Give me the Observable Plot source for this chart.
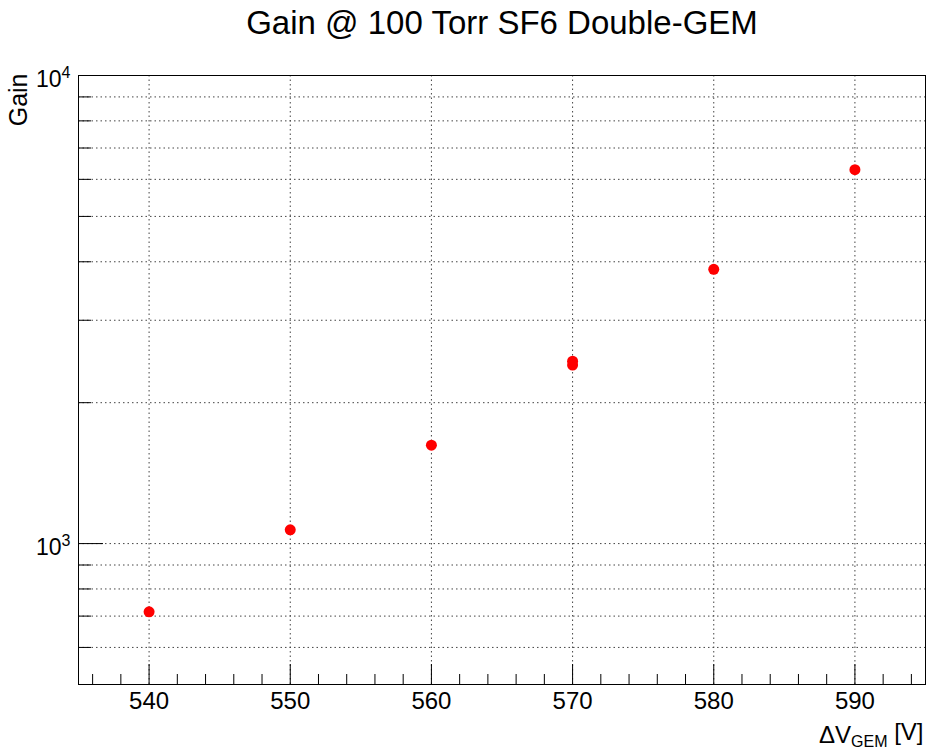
<!DOCTYPE html>
<html><head><meta charset="utf-8">
<script src="https://cdn.jsdelivr.net/npm/d3@7"></script>
<script src="https://cdn.jsdelivr.net/npm/@observablehq/plot@0.6"></script>
<style>
body{margin:0;background:#fff}
svg{font-family:"Liberation Sans",Arial,Helvetica,sans-serif}
</style>
</head><body><div id="chart"></div>
<script>
// Data
const voltage = [540, 550, 560, 570, 570, 580, 590];
const gain = [715, 1070, 1623, 2453, 2406, 3855, 6293];

// Ticks
const xMajorTicks = [540, 550, 560, 570, 580, 590];
const xMinorTicks = [536, 538, 542, 544, 546, 548, 552, 554, 556, 558, 562, 564, 566, 568, 572, 574, 576, 578, 582, 584, 586, 588, 592, 594];
const yMajorTicks = [1000, 10000];
const yMajorLabels = ["10^3", "10^4"];
const yMinorTicks = [600, 700, 800, 900, 2000, 3000, 4000, 5000, 6000, 7000, 8000, 9000];

const titleText = "Gain @ 100 Torr SF6 Double-GEM";
const xLabel = "ΔV_GEM [V]";
const yLabel = "Gain";

const points = voltage.map((v, i) => ({v, g: gain[i]}));

const W = 930, H = 753, mL = 78, mR = 5, mT = 75, mB = 69;
const plotW = W - mL - mR, plotH = H - mT - mB;
const gridStyle = {stroke: "#444", strokeOpacity: 1, strokeWidth: 1, strokeDasharray: "1.5,3"};

const plot = Plot.plot({
  width: W, height: H,
  marginLeft: mL, marginRight: mR, marginTop: mT, marginBottom: mB,
  style: {background: "white", color: "black", fontFamily: "Liberation Sans, Arial, sans-serif"},
  x: {domain: [535, 595]},
  y: {type: "log", domain: [500, 10000]},
  marks: [
    Plot.gridX(xMajorTicks, gridStyle),
    Plot.gridY([...yMinorTicks, 1000], gridStyle),
    Plot.tickX(xMajorTicks, {x: d => d, insetTop: plotH - 20, stroke: "black", strokeWidth: 1}),
    Plot.tickX(xMinorTicks, {x: d => d, insetTop: plotH - 10, stroke: "black", strokeWidth: 1}),
    Plot.tickY(yMajorTicks, {y: d => d, insetRight: plotW - 25, stroke: "black", strokeWidth: 1}),
    Plot.tickY(yMinorTicks, {y: d => d, insetRight: plotW - 13, stroke: "black", strokeWidth: 1}),
    Plot.axisX(xMajorTicks, {tickSize: 0, tickPadding: 7, fontSize: 24, label: null}),
    Plot.axisY(yMajorTicks, {tickSize: 0, tickPadding: 8, fontSize: 23, dy: 4, label: null,
      tickFormat: d => yMajorLabels[yMajorTicks.indexOf(d)]}),
    Plot.frame({stroke: "black", strokeWidth: 1}),
    Plot.dot(points, {x: "v", y: "g", r: 5.5, fill: "#ff0000", stroke: "none"}),
    Plot.text([titleText], {frameAnchor: "top", dy: -65, fontSize: 33, text: d => d}),
    Plot.text([yLabel], {frameAnchor: "top-left", rotate: -90, textAnchor: "end", dx: -69, dy: -2, fontSize: 25, text: d => d}),
    Plot.text([xLabel], {frameAnchor: "bottom-right", textAnchor: "end", lineAnchor: "bottom", dx: -2, dy: 58, fontSize: 24, text: d => d})
  ]
});

// Superscripts / subscripts
d3.select(plot).selectAll("text").each(function() {
  const t = d3.select(this);
  const s = this.textContent;
  let m = s.match(/^10\^(\d)$/);
  if (m) {
    t.text(null);
    t.append("tspan").text("10");
    t.append("tspan").attr("dy", "-0.55em").attr("font-size", "16").text(m[1]);
    return;
  }
  if (s === xLabel) {
    t.text(null);
    t.append("tspan").text("ΔV");
    t.append("tspan").attr("dy", "0.3em").attr("font-size", "16").text("GEM");
    t.append("tspan").attr("dy", "-0.3em").text(" [V]");
  }
});

document.getElementById("chart").appendChild(plot);
</script>
</body></html>
